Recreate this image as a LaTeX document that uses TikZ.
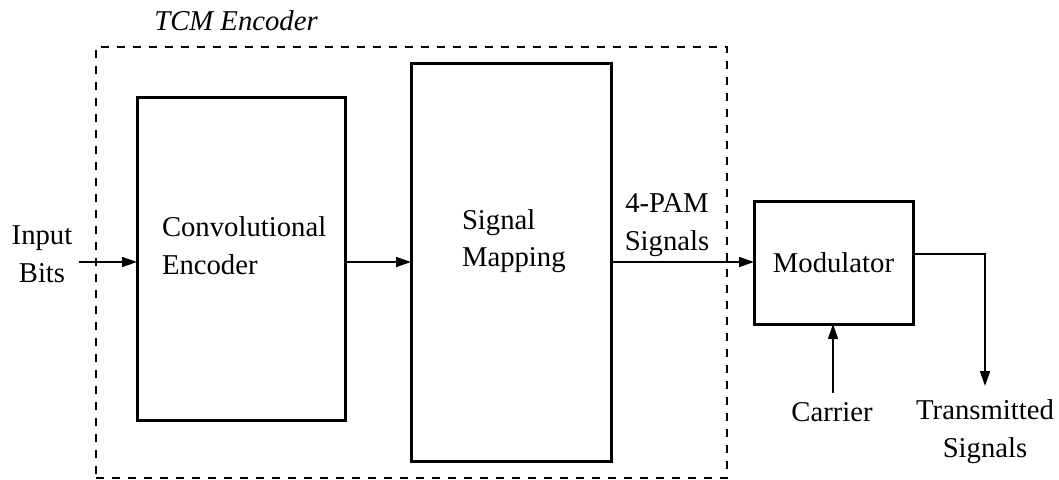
\documentclass[tikz,border=0pt]{standalone}
\usepackage{fontspec}
\setmainfont{Liberation Serif}
\usetikzlibrary{arrows.meta}
\begin{document}
\begin{tikzpicture}[x=1pt,y=-1pt,
  every node/.style={font=\fontsize{28.7}{37.3}\selectfont, inner sep=0pt, outer sep=0pt},
  blk/.style={draw, line width=3pt},
  frame/.style={draw, line width=1.6pt, dash pattern=on 8pt off 8pt},
  arr/.style={line width=1.5pt, -{Triangle[length=15pt,width=10pt]}},
  lbl/.style={align=center, anchor=base}]
\useasboundingbox (0,0) rectangle (1059,479);
% frame
\node[frame, minimum width=631pt, minimum height=431pt] (tcm) at (411.5,262.5) {};
\node[font={\fontsize{28.7}{37.3}\selectfont\itshape}, anchor=base] (tcmlbl) at (236,30) {TCM Encoder};
% blocks
\node[blk, minimum width=208pt, minimum height=323pt] (conv) at (241,258.5) {};
\node[align=left, anchor=base west] (convt) at (162,274) {Convolutional\\Encoder};
\node[blk, minimum width=200pt, minimum height=398pt] (sm) at (511,262) {};
\node[align=left, anchor=base west] (smt) at (462,266.7) {Signal\\Mapping};
\node[blk, minimum width=159pt, minimum height=123pt] (mod) at (833.5,262.5) {Modulator};
% labels
\node[lbl] (inlbl) at (42,282) {Input\\Bits};
\node[lbl] (pam) at (667,250) {4-PAM\\Signals};
\node[lbl] (carlbl) at (832,421.7) {Carrier};
\node[lbl] (txlbl) at (985,457) {Transmitted\\Signals};
% connectors
\coordinate (inb) at (79,262);
\coordinate (tx) at (985,386);
\coordinate (car) at (833,393);
\draw[arr] (inb) -- (inb -| conv.west);
\draw[arr] (conv.east |- sm.west) -- (sm.west);
\draw[arr] (sm.east) -- (sm.east -| mod.west);
\draw[arr] (mod.east |- 0,254) -- (tx |- 0,254) -- (tx);
\draw[arr] (car) -- (car |- mod.south);
\end{tikzpicture}
\end{document}
